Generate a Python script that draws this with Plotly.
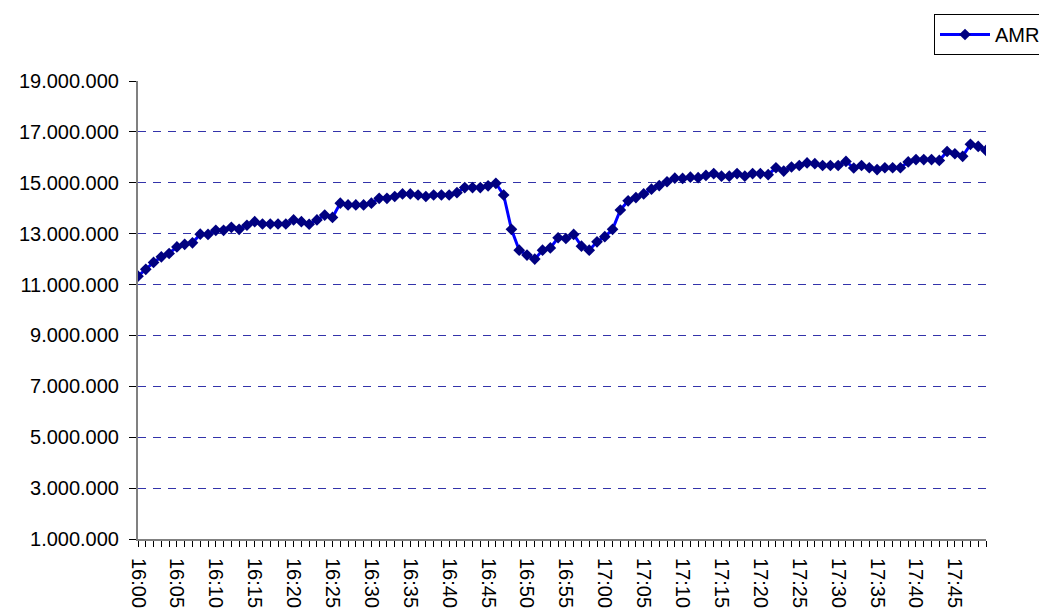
import plotly.graph_objects as go

times = [f"{16 + (m // 60)}:{m % 60:02d}" for m in range(0, 110)]

amr = [
    11.33, 11.60, 11.87, 12.09, 12.22, 12.48, 12.58, 12.64, 12.98, 12.97,
    13.13, 13.13, 13.25, 13.17, 13.33, 13.47, 13.38, 13.38, 13.38, 13.38,
    13.54, 13.47, 13.37, 13.54, 13.73, 13.64, 14.20, 14.13, 14.13, 14.13,
    14.20, 14.39, 14.39, 14.46, 14.56, 14.56, 14.52, 14.46, 14.52, 14.52,
    14.52, 14.61, 14.81, 14.81, 14.81, 14.88, 14.98, 14.52, 13.17, 12.35,
    12.16, 12.00, 12.35, 12.44, 12.84, 12.81, 12.97, 12.51, 12.35, 12.68,
    12.88, 13.17, 13.93, 14.29, 14.42, 14.56, 14.75, 14.89, 15.04, 15.18,
    15.17, 15.22, 15.20, 15.29, 15.36, 15.26, 15.26, 15.36, 15.26, 15.36,
    15.36, 15.32, 15.59, 15.46, 15.62, 15.68, 15.78, 15.75, 15.68, 15.68,
    15.68, 15.84, 15.58, 15.68, 15.59, 15.52, 15.59, 15.59, 15.59, 15.82,
    15.91, 15.91, 15.91, 15.88, 16.23, 16.14, 16.04, 16.51, 16.43, 16.27,
]
amr_values = [v * 1_000_000 for v in amr]

tick_text = [t if i % 5 == 0 else "" for i, t in enumerate(times)]
y_ticks = [1_000_000, 3_000_000, 5_000_000, 7_000_000, 9_000_000,
           11_000_000, 13_000_000, 15_000_000, 17_000_000, 19_000_000]

fig = go.Figure()
fig.add_trace(go.Scatter(
    x=times, y=amr_values, name="AMR", mode="lines+markers",
    line=dict(color="#0000FF", width=3),
    marker=dict(symbol="diamond", size=9, color="#000080"),
))

FONT = "Liberation Sans, Arial, sans-serif"
fig.update_layout(
    width=1047, height=612,
    margin=dict(l=130, r=69, t=73, b=81, autoexpand=False),
    paper_bgcolor="white", plot_bgcolor="white",
    separators=",.",
    font=dict(family=FONT, size=20, color="black"),
    showlegend=True,
    legend=dict(
        xref="container", yref="container",
        x=926 / 1047, y=1 - 6 / 612, xanchor="left", yanchor="top",
        bordercolor="black", borderwidth=1, bgcolor="white",
        font=dict(size=20), itemwidth=50,
    ),
)
fig.update_xaxes(
    type="category", range=[0, 109], automargin=False,
    tickmode="array", tickvals=times, ticktext=tick_text,
    tickangle=90, ticks="outside", ticklen=6, tickcolor="black",
    showline=True, linecolor="#808080", linewidth=2,
    showgrid=False, zeroline=False, ticklabelstandoff=7,
)
fig.update_yaxes(
    range=[1_000_000, 19_000_000], automargin=False,
    tickmode="array", tickvals=y_ticks, tickformat=",d",
    ticks="outside", ticklen=7, tickcolor="black",
    showline=True, linecolor="#808080", linewidth=2,
    showgrid=True, gridcolor="#3333AA", gridwidth=1, griddash="8px,7px",
    zeroline=False, ticklabelstandoff=6,
)

fig.write_html("out.html")
